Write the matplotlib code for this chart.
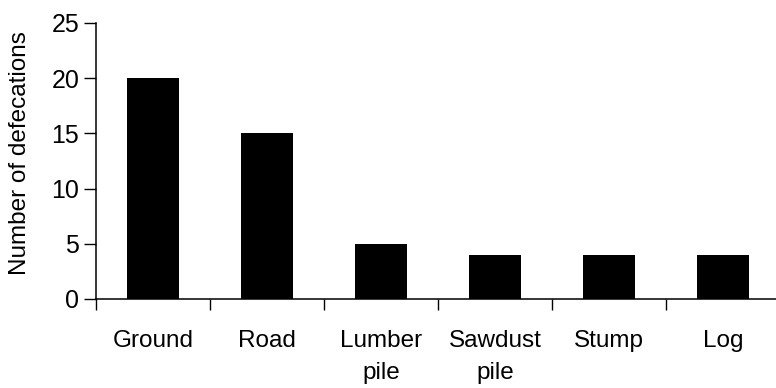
import numpy as np
import matplotlib.pyplot as plt

plt.rcParams['font.family'] = ['Liberation Sans', 'DejaVu Sans']

# data
sites = ["Ground", "Road", "Lumber\npile", "Sawdust\npile", "Stump", "Log"]
defecations = [20, 15, 5, 4, 4, 4]

fig = plt.figure(figsize=(7.76, 3.88), dpi=100)
ax = fig.add_axes([96 / 776, (388 - 299) / 388, 684 / 776, 276 / 388])

x = np.arange(len(sites))
ax.bar(x, defecations, width=0.46, color="black")

ax.set_xlim(-0.5, len(sites) - 0.5)
ax.set_ylim(0, 25)
ax.set_yticks([0, 5, 10, 15, 20, 25])

# ticks sit between the categories, labels under the bars
ax.set_xticks(np.arange(len(sites) + 1) - 0.5)
ax.set_xticklabels([])
ax.set_xticks(x, minor=True)
ax.set_xticklabels(sites, minor=True, fontsize=17.5, linespacing=1.6)
ax.tick_params(axis="x", which="minor", length=0, pad=22)
ax.tick_params(axis="x", which="major", direction="out", length=8, width=1)
ax.tick_params(axis="y", direction="out", length=9, width=1, labelsize=18, pad=3)

ax.set_ylabel("Number of defecations", fontsize=17.5, labelpad=6)
ax.yaxis.set_label_coords(-0.095, 0.53)

ax.spines["top"].set_visible(False)
ax.spines["right"].set_visible(False)
for s in ["left", "bottom"]:
    ax.spines[s].set_linewidth(1.1)

fig.savefig("out.png", dpi=100)
